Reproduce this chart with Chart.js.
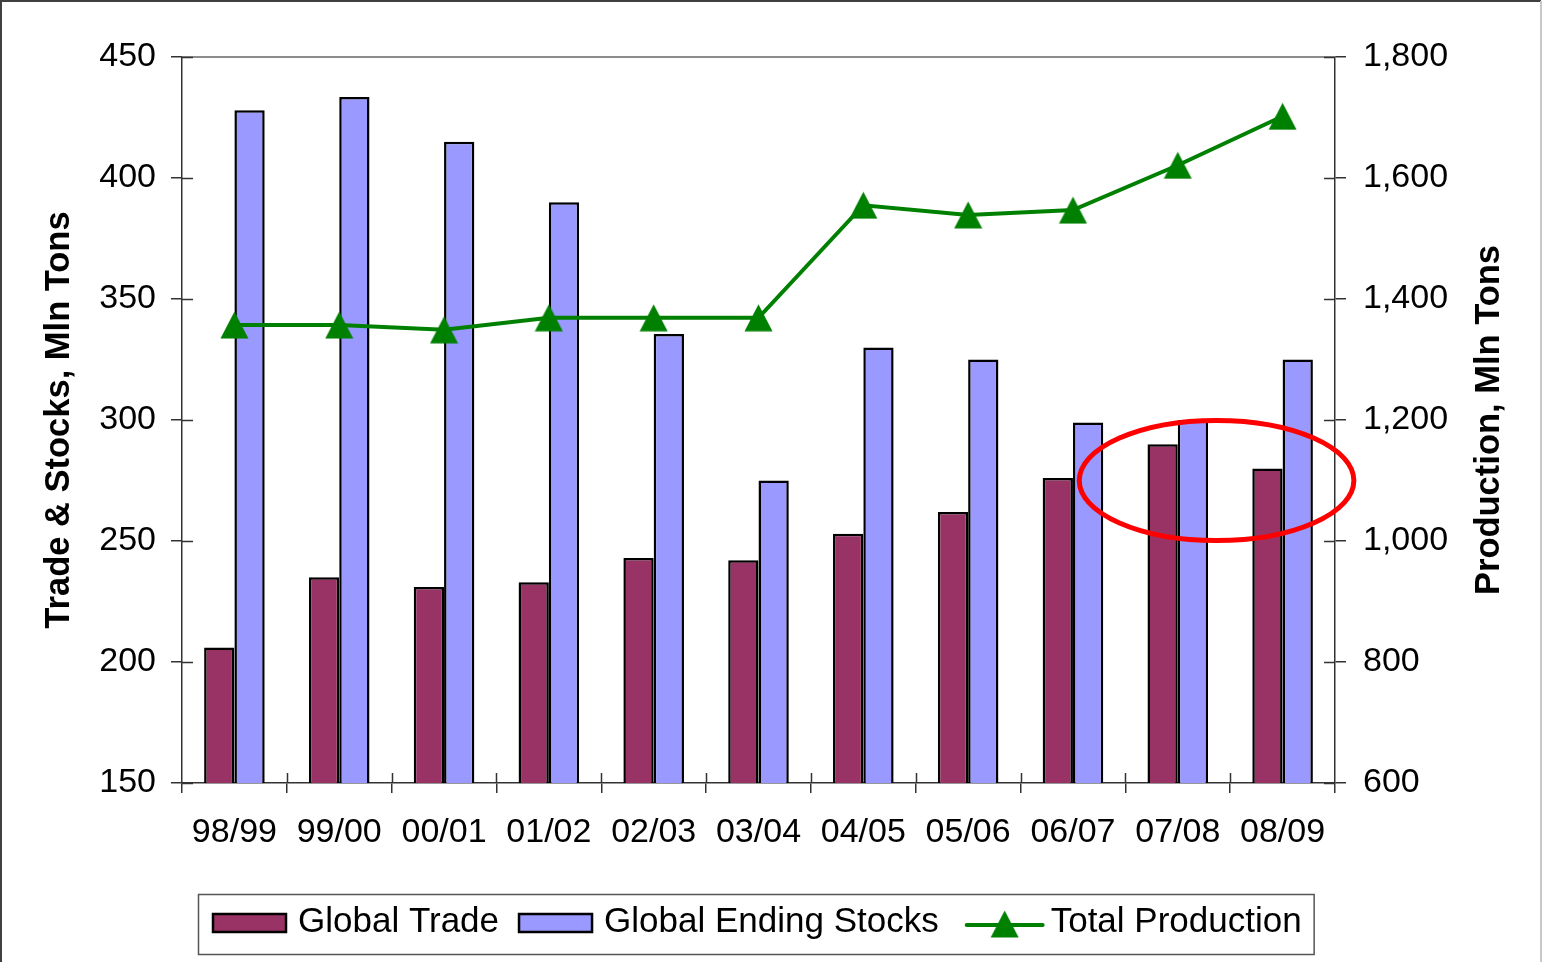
<!DOCTYPE html>
<html>
<head>
<meta charset="utf-8">
<script src="https://cdn.jsdelivr.net/npm/chart.js@4"></script>
<style>
  html, body { margin: 0; padding: 0; background: #fff; }
  canvas { display: block; }
</style>
</head>
<body>
<canvas id="c" width="1543" height="962"></canvas>
<script>
const categories = ['98/99','99/00','00/01','01/02','02/03','03/04','04/05','05/06','06/07','07/08','08/09'];
const globalTrade = [206, 235, 231, 233, 243, 242, 253, 262, 276, 290, 280];
const globalEndingStocks = [428, 433.5, 415, 390, 335.5, 275, 330, 325, 299, 300, 325];
const totalProduction = [1357, 1357, 1349, 1369, 1369, 1369, 1555, 1539, 1547, 1621, 1702];
const leftTicks = [150, 450, 50];
const rightTicks = [600, 1800, 200];
const seriesNames = ['Global Trade', 'Global Ending Stocks', 'Total Production'];
const axisTitles = ['Trade & Stocks, Mln Tons', 'Production, Mln Tons'];

const FONT = "'Liberation Sans', Arial, sans-serif";
const C_TRADE = '#993366', C_STOCK = '#9999FF', C_PROD = '#008000';
const AXIS = '#333';

function makeTriangle(w, h, color) {
  const cv = document.createElement('canvas');
  cv.width = w; cv.height = h;
  const g = cv.getContext('2d');
  g.fillStyle = color;
  g.beginPath();
  g.moveTo(w / 2, 0.5);
  g.lineTo(w - 0.5, h - 0.5);
  g.lineTo(0.5, h - 0.5);
  g.closePath();
  g.fill();
  return cv;
}
const tri = makeTriangle(29, 28, C_PROD);

const decor = {
  id: 'decor',
  beforeDatasetsDraw(chart) {
    const {ctx, chartArea: a} = chart;
    ctx.save();
    ctx.strokeStyle = '#8c8c8c';
    ctx.lineWidth = 2;
    ctx.beginPath();
    ctx.moveTo(a.left, a.top);
    ctx.lineTo(a.right, a.top);
    ctx.stroke();
    ctx.restore();
  },
  afterDatasetsDraw(chart) {
    const {ctx, chartArea: a, scales} = chart;
    ctx.save();
    ctx.strokeStyle = AXIS;
    ctx.lineWidth = 1.5;
    ctx.beginPath();
    scales.y.ticks.forEach(t => {
      const p = Math.round(scales.y.getPixelForValue(t.value)) + 0.5;
      ctx.moveTo(a.left, p); ctx.lineTo(a.left + 11, p);
    });
    scales.y2.ticks.forEach(t => {
      const p = Math.round(scales.y2.getPixelForValue(t.value)) + 0.5;
      ctx.moveTo(a.right - 11, p); ctx.lineTo(a.right, p);
    });
    for (let i = 1; i < categories.length; i++) {
      const p = Math.round((scales.x.getPixelForValue(i - 1) + scales.x.getPixelForValue(i)) / 2) + 0.5;
      ctx.moveTo(p, a.bottom); ctx.lineTo(p, a.bottom - 10);
    }
    ctx.stroke();
    ctx.restore();
  },
  afterDraw(chart) {
    const {ctx, chartArea: a, scales} = chart;
    const W = chart.width;
    ctx.save();
    // outer frame
    ctx.lineWidth = 2;
    ctx.strokeStyle = '#404040';
    ctx.beginPath();
    ctx.moveTo(1, 970); ctx.lineTo(1, 1); ctx.lineTo(W - 2, 1);
    ctx.stroke();
    ctx.strokeStyle = '#c8c8c8';
    ctx.beginPath();
    ctx.moveTo(W - 2, 1); ctx.lineTo(W - 2, 970);
    ctx.stroke();

    // right axis title (reads bottom-to-top)
    ctx.fillStyle = '#000';
    ctx.font = "bold 34.5px " + FONT;
    ctx.textAlign = 'center';
    ctx.textBaseline = 'middle';
    ctx.translate(scales.y2.left + 154, (a.top + a.bottom) / 2);
    ctx.rotate(-Math.PI / 2);
    ctx.fillText(axisTitles[1], 0, 0);
    ctx.setTransform(1, 0, 0, 1, 0, 0);

    // red ellipse annotation around 07/08 - 08/09
    const x9 = scales.x.getPixelForValue(9), x10 = scales.x.getPixelForValue(10);
    const sp = x10 - x9;
    const cx = x9 + 0.37 * sp;
    const cy = scales.y.getPixelForValue(275);
    const ry = scales.y.getPixelForValue(275 - 24.8) - cy;
    ctx.strokeStyle = '#FF0000';
    ctx.lineWidth = 5;
    ctx.beginPath();
    ctx.ellipse(cx, cy, 1.31 * sp, ry, 0, 0, Math.PI * 2);
    ctx.stroke();

    // legend
    ctx.font = "35px " + FONT;
    ctx.textAlign = 'left';
    ctx.textBaseline = 'middle';
    const top = 894, h = 60, mid = 923;
    let x = 198;
    const x0 = x;
    x += 14;
    const items = [];
    items.push({type: 'bar', color: C_TRADE, x: x}); x += 75 + 11;
    items.push({type: 'text', text: seriesNames[0], x: x}); x += ctx.measureText(seriesNames[0]).width + 19;
    items.push({type: 'bar', color: C_STOCK, x: x}); x += 75 + 11;
    items.push({type: 'text', text: seriesNames[1], x: x}); x += ctx.measureText(seriesNames[1]).width + 26;
    items.push({type: 'line', x: x}); x += 80 + 6;
    items.push({type: 'text', text: seriesNames[2], x: x}); x += ctx.measureText(seriesNames[2]).width + 12;
    ctx.fillStyle = '#fff';
    ctx.fillRect(x0, top, x - x0, h);
    ctx.strokeStyle = '#555';
    ctx.lineWidth = 1.5;
    ctx.strokeRect(x0 + 0.5, top + 0.5, x - x0, h);
    items.forEach(it => {
      if (it.type === 'bar') {
        ctx.fillStyle = it.color;
        ctx.fillRect(it.x, mid - 10, 75, 20);
        ctx.strokeStyle = '#000';
        ctx.lineWidth = 2.5;
        ctx.strokeRect(it.x + 1, mid - 9, 73, 18);
      } else if (it.type === 'line') {
        ctx.strokeStyle = C_PROD;
        ctx.lineWidth = 4;
        ctx.lineCap = 'round';
        ctx.beginPath();
        ctx.moveTo(it.x + 2, mid + 2); ctx.lineTo(it.x + 78, mid + 2);
        ctx.stroke();
        ctx.drawImage(tri, it.x + 40 - tri.width / 2, mid + 1 - tri.height / 2);
      } else {
        ctx.fillStyle = '#000';
        ctx.fillText(it.text, it.x, mid - 1);
      }
    });
    ctx.restore();
  }
};

new Chart(document.getElementById('c'), {
  data: {
    labels: categories,
    datasets: [
      {
        type: 'line', label: seriesNames[2], data: totalProduction, yAxisID: 'y2',
        borderColor: C_PROD, backgroundColor: C_PROD, borderWidth: 4,
        pointStyle: tri, pointRadius: 14, pointHoverRadius: 14, tension: 0, order: 0
      },
      {
        type: 'bar', label: seriesNames[0], data: globalTrade, yAxisID: 'y',
        backgroundColor: C_TRADE, borderColor: '#000', borderWidth: 2.5,
        categoryPercentage: 0.578, barPercentage: 1.0, order: 1
      },
      {
        type: 'bar', label: seriesNames[1], data: globalEndingStocks, yAxisID: 'y',
        backgroundColor: C_STOCK, borderColor: '#000', borderWidth: 2.5,
        categoryPercentage: 0.578, barPercentage: 1.0, order: 1
      }
    ]
  },
  options: {
    responsive: false,
    animation: false,
    layout: { padding: { top: 57, left: 0, right: 0, bottom: 0 } },
    plugins: { legend: { display: false }, tooltip: { enabled: false } },
    scales: {
      x: {
        type: 'category',
        offset: true,
        afterFit(s) { s.height = 179; },
        grid: { offset: true, drawOnChartArea: false, drawTicks: true, tickLength: 10, color: AXIS, lineWidth: 1.5 },
        border: { display: true, color: AXIS, width: 1.5 },
        ticks: { color: '#000', font: { family: FONT, size: 34 }, padding: 19, maxRotation: 0, autoSkip: false }
      },
      y: {
        position: 'left',
        min: leftTicks[0], max: leftTicks[1],
        afterFit(s) { s.width = 182; },
        grid: { drawOnChartArea: false, drawTicks: true, tickLength: 11, color: AXIS, lineWidth: 1.5 },
        border: { display: true, color: AXIS, width: 1.5 },
        ticks: { stepSize: leftTicks[2], color: '#000', font: { family: FONT, size: 34 }, padding: 15 },
        title: { display: true, text: axisTitles[0], color: '#000', font: { family: FONT, size: 34.5, weight: 'bold' }, padding: { top: 39, bottom: 0 } }
      },
      y2: {
        position: 'right',
        min: rightTicks[0], max: rightTicks[1],
        afterFit(s) { s.width = 208; },
        grid: { drawOnChartArea: false, drawTicks: true, tickLength: 11, color: AXIS, lineWidth: 1.5 },
        border: { display: true, color: AXIS, width: 1.5 },
        ticks: { stepSize: rightTicks[2], color: '#000', font: { family: FONT, size: 34 }, padding: 17,
                 callback: v => Number(v).toLocaleString('en-US') }
      }
    }
  },
  plugins: [decor]
});
</script>
</body>
</html>
